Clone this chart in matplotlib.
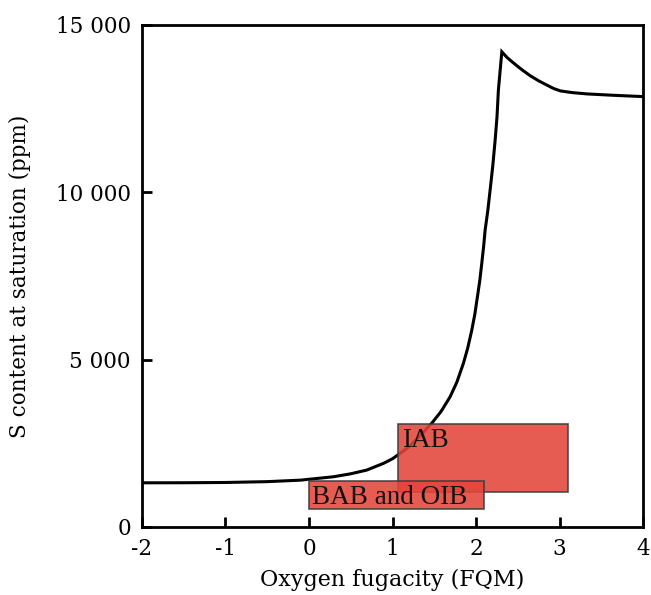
import matplotlib
matplotlib.use("Agg")
import matplotlib.pyplot as plt
from matplotlib.patches import Rectangle

# Curve: S content at saturation vs oxygen fugacity
fqm = [-2.0, -1.5, -1.0, -0.5, -0.1, 0.29, 0.5, 0.69, 0.89, 1.0, 1.09, 1.2, 1.3, 1.38,
       1.469, 1.58, 1.689, 1.77, 1.848, 1.90, 1.949, 1.985, 2.016, 2.045, 2.068, 2.09,
       2.108, 2.14, 2.168, 2.2, 2.228, 2.25, 2.267, 2.29, 2.308, 2.37, 2.45, 2.55, 2.65,
       2.75, 2.85, 2.93, 3.01, 3.15, 3.33, 3.64, 4.0]
s_ppm = [1320, 1322, 1330, 1355, 1400, 1500, 1590, 1700, 1900, 2040, 2200, 2400, 2650, 2860,
         3100, 3450, 3890, 4330, 4890, 5350, 5890, 6360, 6880, 7380, 7880, 8380,
         8870, 9450, 10070, 10800, 11560, 12250, 13060, 13700, 14200, 14030, 13860, 13660, 13480,
         13330, 13200, 13100, 13030, 12980, 12940, 12900, 12860]

# Compositional fields (x range, y range)
field_names = ["IAB", "BAB and OIB"]
field_x = [(1.07, 3.1), (0.0, 2.1)]
field_y = [(1050, 3080), (540, 1370)]

xticks = [-2, -1, 0, 1, 2, 3, 4]
yticks = [0, 5000, 10000, 15000]
yticklabels = ["0", "5 000", "10 000", "15 000"]

serif = ["DejaVu Serif"]
fig = plt.figure(figsize=(6.51, 5.95), dpi=100)
ax = fig.add_axes([0.218, 0.1143, 0.770, 0.8437])

ax.plot(fqm, s_ppm, color="black", lw=2.2, zorder=2, solid_joinstyle="miter")

for name, (x0, x1), (y0, y1) in zip(field_names, field_x, field_y):
    ax.add_patch(Rectangle((x0, y0), x1 - x0, y1 - y0, facecolor="#e4453a",
                           edgecolor="#3a3a3a", lw=1.2, alpha=0.88, zorder=3))
    ax.text(x0 + 0.04, y1 - 130, name, ha="left", va="top", fontsize=19.5,
            family="Liberation Serif", color="#111111", zorder=4)

ax.set_xlim(-2, 4)
ax.set_ylim(0, 15000)
ax.set_xticks(xticks)
ax.set_xticklabels([str(t) for t in xticks], family=serif, fontsize=15.5)
ax.set_yticks(yticks)
ax.set_yticklabels(yticklabels, family=serif, fontsize=15.5)
ax.tick_params(direction="in", length=7, width=2, pad=8)
for sp in ax.spines.values():
    sp.set_linewidth(2)
ax.set_xlabel("Oxygen fugacity (FQM)", family=serif, fontsize=16, labelpad=6)
ax.set_ylabel("S content at saturation (ppm)", family=serif, fontsize=15.5, labelpad=18)

fig.savefig("out.png", dpi=100)
